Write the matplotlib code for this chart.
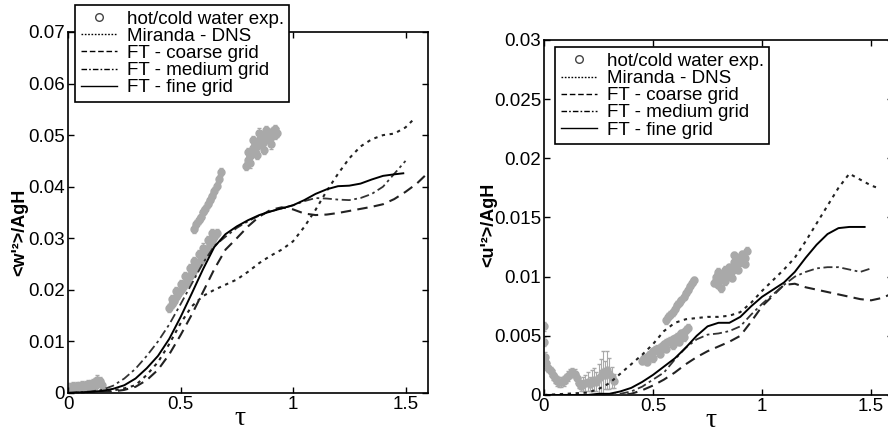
import numpy as np
import matplotlib
matplotlib.use("Agg")
from matplotlib import pyplot as plt
from matplotlib.lines import Line2D
from matplotlib.ticker import FuncFormatter

plt.rcParams['font.family'] = ['Liberation Sans', 'DejaVu Sans']

# ---- left panel : <w'^2>/AgH ----
w_tau = [0, 0.1, 0.15, 0.2, 0.25, 0.3, 0.35, 0.4, 0.45, 0.5, 0.55, 0.6, 0.65, 0.7, 0.75,
         0.8, 0.85, 0.9, 0.95, 1.0, 1.05, 1.1, 1.15, 1.2, 1.25, 1.3, 1.35, 1.4, 1.45, 1.5]
w_fine = [0, 0.0002, 0.0004, 0.0008, 0.0015, 0.0028, 0.0048, 0.0072, 0.0105, 0.0147, 0.0193,
          0.0240, 0.0283, 0.0308, 0.0323, 0.0335, 0.0345, 0.0352, 0.0358, 0.0364, 0.0374,
          0.0386, 0.0395, 0.0401, 0.0402, 0.0406, 0.0414, 0.0421, 0.0424, 0.0426]
w_medium = [0, 0.0003, 0.0006, 0.0014, 0.0028, 0.0047, 0.0072, 0.0100, 0.0133, 0.0172, 0.0212,
            0.0252, 0.0285, 0.0303, 0.0320, 0.0333, 0.0344, 0.0352, 0.0358, 0.0364, 0.0372,
            0.0378, 0.0377, 0.0375, 0.0374, 0.0378, 0.0386, 0.0400, 0.0425, 0.0450]
w_coarse_tau = w_tau + [1.55, 1.6]
w_coarse = [0, 0.0001, 0.0002, 0.0003, 0.0006, 0.0012, 0.0025, 0.0045, 0.0075, 0.0112, 0.0152,
            0.0196, 0.0240, 0.0278, 0.0300, 0.0323, 0.0342, 0.0355, 0.0360, 0.0356, 0.0348,
            0.0345, 0.0346, 0.0349, 0.0353, 0.0357, 0.0361, 0.0366, 0.0376, 0.0390, 0.0406, 0.0427]
w_dns_tau = w_tau + [1.53]
w_dns = [0, 0.0001, 0.0002, 0.0005, 0.0009, 0.0015, 0.0035, 0.0060, 0.0095, 0.0135, 0.0168,
         0.0188, 0.0200, 0.0210, 0.0220, 0.0235, 0.0252, 0.0266, 0.0278, 0.0294, 0.0322,
         0.0355, 0.0392, 0.0425, 0.0455, 0.0478, 0.0492, 0.0500, 0.0503, 0.0515, 0.0528]

# hot/cold water experiment, left
w_exp_tau = [0.00, 0.01, 0.02, 0.03, 0.04, 0.05, 0.06, 0.07, 0.08, 0.09, 0.10, 0.11, 0.12, 0.13, 0.14, 0.15,
             0.00, 0.02, 0.04, 0.06, 0.08, 0.10, 0.12,
             0.45, 0.46, 0.47, 0.48, 0.49, 0.50, 0.51, 0.52, 0.53, 0.54, 0.55, 0.56, 0.57, 0.58,
             0.59, 0.60, 0.61, 0.62, 0.63, 0.64, 0.65, 0.66,
             0.46, 0.48, 0.50, 0.52, 0.54, 0.56, 0.58, 0.60, 0.62, 0.64,
             0.56, 0.57, 0.58, 0.59, 0.60, 0.61, 0.62, 0.63, 0.64, 0.65, 0.66, 0.67, 0.68,
             0.79, 0.80, 0.80, 0.81, 0.82, 0.83, 0.83, 0.84, 0.85, 0.86, 0.86, 0.87, 0.88, 0.89,
             0.89, 0.90, 0.91, 0.92, 0.92, 0.93, 0.84, 0.87, 0.90, 0.82, 0.85, 0.81, 0.88]
w_exp = [0.0012, 0.0011, 0.0013, 0.0012, 0.0014, 0.0013, 0.0015, 0.0014, 0.0016, 0.0017, 0.0018, 0.0019, 0.0022, 0.0026, 0.0023, 0.0015,
         0.0006, 0.0007, 0.0008, 0.0008, 0.0009, 0.0011, 0.0014,
         0.0165, 0.0172, 0.0178, 0.0186, 0.0192, 0.0199, 0.0205, 0.0212, 0.0218, 0.0226, 0.0232, 0.0238,
         0.0245, 0.0252, 0.0258, 0.0265, 0.0272, 0.0279, 0.0286, 0.0294, 0.0302, 0.0310,
         0.0182, 0.0197, 0.0212, 0.0226, 0.0242, 0.0255, 0.0270, 0.0282, 0.0296, 0.0310,
         0.0318, 0.0328, 0.0335, 0.0342, 0.0350, 0.0357, 0.0366, 0.0374, 0.0382, 0.0392, 0.0402, 0.0415, 0.0428,
         0.0440, 0.0452, 0.0468, 0.0460, 0.0475, 0.0470, 0.0485, 0.0478, 0.0490, 0.0482, 0.0498, 0.0488, 0.0500, 0.0492,
         0.0505, 0.0496, 0.0508, 0.0500, 0.0512, 0.0505, 0.0462, 0.0472, 0.0482, 0.0490, 0.0505, 0.0445, 0.0510]
w_exp_err = 0.0008

# ---- right panel : <u'^2>/AgH ----
u_tau = [0, 0.2, 0.25, 0.3, 0.35, 0.4, 0.45, 0.5, 0.55, 0.6, 0.65, 0.7, 0.75, 0.8, 0.85, 0.9,
         0.95, 1.0, 1.05, 1.1, 1.15, 1.2, 1.25, 1.3, 1.35, 1.4, 1.45, 1.5]
u_fine_tau = u_tau[:-2] + [1.47]
u_fine = [0, 0, 0.0001, 0.0001, 0.0003, 0.0006, 0.0011, 0.0017, 0.0024, 0.0031, 0.0040, 0.0050,
          0.0058, 0.0061, 0.0061, 0.0066, 0.0075, 0.0083, 0.0089, 0.0095, 0.0104, 0.0116, 0.0127,
          0.0136, 0.0141, 0.0142, 0.0142]
u_dns_tau = u_tau + [1.53]
u_dns = [0, 0.0002, 0.0005, 0.0010, 0.0018, 0.0026, 0.0034, 0.0043, 0.0054, 0.0061, 0.0064, 0.0065,
         0.0066, 0.0066, 0.0067, 0.0070, 0.0078, 0.0088, 0.0097, 0.0106, 0.0116, 0.0130, 0.0145,
         0.0160, 0.0175, 0.0187, 0.0182, 0.0177, 0.0175]
u_medium = [0, 0, 0, 0, 0.0001, 0.0003, 0.0007, 0.0013, 0.0019, 0.0030, 0.0040, 0.0047, 0.0051,
            0.0052, 0.0054, 0.0058, 0.0068, 0.0077, 0.0085, 0.0093, 0.0100, 0.0104, 0.0107,
            0.0108, 0.0108, 0.0106, 0.0104, 0.0107]
u_coarse_tau = u_tau + [1.55, 1.6]
u_coarse = [0, 0, 0, 0, 0, 0.0001, 0.0004, 0.0008, 0.0013, 0.0019, 0.0026, 0.0032, 0.0037,
            0.0041, 0.0045, 0.0050, 0.0062, 0.0075, 0.0084, 0.0093, 0.0094, 0.0091, 0.0089,
            0.0087, 0.0085, 0.0083, 0.0081, 0.0080, 0.0082, 0.0086]

# hot/cold water experiment, right
u_exp_tau = [0.00, 0.00, 0.005, 0.01, 0.02, 0.03, 0.04, 0.05, 0.06, 0.07, 0.08, 0.09, 0.10, 0.11,
             0.12, 0.13, 0.14, 0.15, 0.16,
             0.17, 0.18, 0.19, 0.20, 0.21, 0.22, 0.23, 0.24, 0.25, 0.26, 0.27, 0.28, 0.29, 0.30, 0.31, 0.32,
             0.45, 0.46, 0.47, 0.48, 0.49, 0.50, 0.51, 0.52, 0.53, 0.54, 0.55, 0.56, 0.57, 0.58,
             0.59, 0.60, 0.61, 0.62, 0.63, 0.64, 0.65, 0.66,
             0.47, 0.50, 0.53, 0.56, 0.59, 0.62, 0.64,
             0.56, 0.57, 0.58, 0.59, 0.60, 0.61, 0.62, 0.63, 0.64, 0.65, 0.66, 0.67, 0.68, 0.69,
             0.78, 0.79, 0.80, 0.80, 0.81, 0.82, 0.83, 0.84, 0.85, 0.86, 0.87, 0.88, 0.89,
             0.90, 0.91, 0.92, 0.93, 0.83, 0.86, 0.89, 0.92, 0.81, 0.87]
u_exp = [0.0058, 0.0045, 0.0032, 0.0027, 0.0023, 0.0020, 0.0017, 0.0014, 0.0012, 0.0011, 0.0011,
         0.0012, 0.0014, 0.0016, 0.0018, 0.0019, 0.0018, 0.0014, 0.0010,
         0.0008, 0.0009, 0.0010, 0.0011, 0.0009, 0.0012, 0.0013, 0.0011, 0.0014, 0.0016, 0.0019,
         0.0017, 0.0021, 0.0018, 0.0015, 0.0012,
         0.0029, 0.0031, 0.0032, 0.0034, 0.0035, 0.0037, 0.0038, 0.0039, 0.0040, 0.0041, 0.0043,
         0.0044, 0.0045, 0.0046, 0.0047, 0.0048, 0.0049, 0.0050, 0.0052, 0.0053, 0.0055, 0.0057,
         0.0028, 0.0031, 0.0035, 0.0039, 0.0042, 0.0045, 0.0049,
         0.0063, 0.0066, 0.0068, 0.0070, 0.0073, 0.0076, 0.0078, 0.0080, 0.0083, 0.0086, 0.0089,
         0.0092, 0.0095, 0.0097,
         0.0095, 0.0100, 0.0093, 0.0104, 0.0098, 0.0102, 0.0106, 0.0101, 0.0108, 0.0105, 0.0112,
         0.0109, 0.0116, 0.0112, 0.0119, 0.0116, 0.0122, 0.0096, 0.0099, 0.0106, 0.0111, 0.0090, 0.0118]
# error bars: small at the start, larger on the 0.17-0.32 segment, small on the rest
u_exp_err = ([0.0004] * 19
             + [0.0005, 0.0006, 0.0007, 0.0008, 0.0006, 0.0009, 0.0010, 0.0008,
                0.0012, 0.0014, 0.0018, 0.0012, 0.0016, 0.0013, 0.0009, 0.0006]
             + [0.0003] * (len(u_exp) - 35))

legend_labels = ['hot/cold water exp.', 'Miranda - DNS', 'FT - coarse grid',
                 'FT - medium grid', 'FT - fine grid']

fig = plt.figure(figsize=(8.88, 4.34), dpi=100)
ax1 = fig.add_axes([0.0766, 0.0945, 0.4054, 0.8318])
ax2 = fig.add_axes([0.6126, 0.0899, 0.393, 0.818])

gray = '#a9a9a9'
lw = 1.5
dot = (1.6, 2.2)
dash = (5, 3)
dashdot = (5, 2, 1.5, 2)


def draw(ax, exp_t, exp_y, exp_err, dns_t, dns, coarse_t, coarse, med_t, med, fine_t, fine):
    ax.errorbar(exp_t, exp_y, yerr=exp_err, fmt='o', ms=5, color=gray, mfc=gray, mec=gray,
                ecolor=gray, elinewidth=0.8, capsize=1.5, zorder=1)
    ax.plot(dns_t, dns, color='#222222', lw=lw, dashes=dot, zorder=3)
    ax.plot(coarse_t, coarse, color='#222222', lw=lw, dashes=dash, zorder=3)
    ax.plot(med_t, med, color='#333333', lw=1.3, dashes=dashdot, zorder=3)
    ax.plot(fine_t, fine, color='black', lw=1.4, zorder=4)


draw(ax1, w_exp_tau, w_exp, w_exp_err, w_dns_tau, w_dns, w_coarse_tau, w_coarse,
     w_tau, w_medium, w_tau[:-1] + [1.49], w_fine)
draw(ax2, u_exp_tau, u_exp, u_exp_err, u_dns_tau, u_dns, u_coarse_tau, u_coarse,
     u_tau, u_medium, u_fine_tau, u_fine)

fmt = FuncFormatter(lambda v, p: '%g' % v)
for ax, ymax, ystep, lab in [(ax1, 0.07, 0.01, "<w'²>/AgH"), (ax2, 0.03, 0.005, "<u'²>/AgH")]:
    ax.set_xlim(0, 1.6)
    ax.set_ylim(0, ymax)
    ax.set_xticks([0, 0.5, 1, 1.5])
    ax.set_yticks(np.arange(0, ymax + ystep / 2, ystep))
    ax.xaxis.set_major_formatter(fmt)
    ax.yaxis.set_major_formatter(fmt)
    ax.tick_params(direction='in', top=True, right=True, length=4, width=1,
                   labelsize=13.5, pad=2)
    for s in ax.spines.values():
        s.set_linewidth(1.2)
    ax.set_xlabel('τ', family='Liberation Serif', fontsize=20, va='center')
    ax.set_ylabel(lab, fontsize=13, fontweight='bold', va='center')

ax1.xaxis.set_label_coords(0.478, -0.072)
ax2.xaxis.set_label_coords(0.478, -0.073)
ax1.yaxis.set_label_coords(-0.133, 0.446)
ax2.yaxis.set_label_coords(-0.158, 0.48)

handles = [Line2D([], [], ls='none', marker='o', ms=5.5, mfc='white', mec='#444444', mew=1),
           Line2D([], [], color='black', lw=1, dashes=(1.2, 1.2)),
           Line2D([], [], color='black', lw=1, dashes=(4, 2)),
           Line2D([], [], color='black', lw=1, dashes=(4, 1.5, 1.2, 1.5)),
           Line2D([], [], color='black', lw=1)]

for ax, anchor in [(ax1, (0.0845, 0.9885)), (ax2, (0.625, 0.891))]:
    leg = ax.legend(handles, legend_labels, loc='upper left', bbox_to_anchor=anchor,
                    bbox_transform=fig.transFigure, borderaxespad=0, fontsize=13.5,
                    fancybox=False, framealpha=1, edgecolor='black', labelspacing=0.0,
                    handlelength=1.95, handletextpad=0.5, borderpad=0.3)
    leg.get_frame().set_linewidth(1.2)
    leg.set_zorder(10)

fig.savefig('out.png', dpi=100)
